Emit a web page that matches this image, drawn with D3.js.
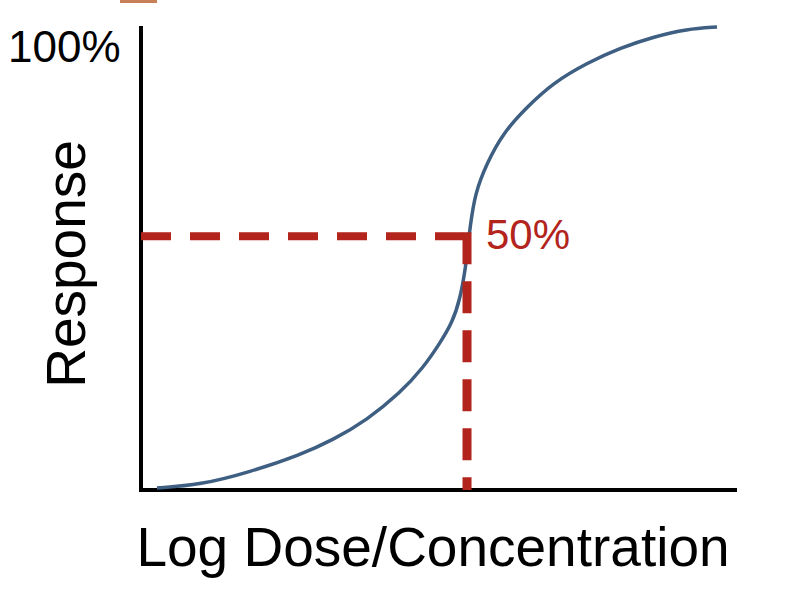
<!DOCTYPE html>
<html>
<head>
<meta charset="utf-8">
<script src="https://cdn.jsdelivr.net/npm/d3@7"></script>
<style>
  html, body { margin: 0; padding: 0; background: #fff; }
  svg { display: block; }
  text { font-family: "Liberation Sans", Arial, sans-serif; }
</style>
</head>
<body>
<svg id="chart" width="792" height="596"></svg>
<script>
// Data (x: log dose, 0-100 arbitrary units; y: response, % of axis)
const logDose = [2.68, 9.90, 18.29, 26.68, 32.21, 37.92, 43.46, 47.32, 50.17, 52.18, 53.52, 54.53, 54.87, 55.20, 56.04, 58.05, 60.74, 64.77, 69.13, 74.83, 80.37, 85.91, 91.61, 96.64];
const response = [0.43, 1.08, 3.88, 7.54, 10.78, 15.09, 20.91, 26.29, 31.68, 35.99, 40.95, 48.49, 52.80, 56.47, 64.01, 70.47, 76.94, 82.54, 87.72, 92.03, 95.26, 97.63, 99.35, 99.78];
const halfDose = [54.7];       // dose at half-maximal response
const halfResponse = [54.7];   // response level marked "50%"
const labels = ["100%", "50%", "Response", "Log Dose/Concentration"];

const svg = d3.select("#chart");
const x = d3.scaleLinear().domain([0, 100]).range([141, 737]);
const y = d3.scaleLinear().domain([0, 100]).range([490, 26]);

// small orange mark at top (cropped element)
svg.append("rect").attr("x", 120).attr("y", 0).attr("width", 37).attr("height", 3)
  .attr("fill", "#c98058");

// axes
svg.append("line")
  .attr("x1", x(0)).attr("x2", x(0)).attr("y1", y(100)).attr("y2", y(0) + 2)
  .attr("stroke", "#000").attr("stroke-width", 4);
svg.append("line")
  .attr("x1", x(0) - 2).attr("x2", x(100)).attr("y1", y(0)).attr("y2", y(0))
  .attr("stroke", "#000").attr("stroke-width", 4);

// curve
const line = d3.line()
  .x((d, i) => x(logDose[i]))
  .y((d, i) => y(response[i]))
  .curve(d3.curveBasis);
svg.append("path")
  .datum(logDose)
  .attr("d", line)
  .attr("fill", "none")
  .attr("stroke", "#3e5f82")
  .attr("stroke-width", 3.5)
  .attr("stroke-linecap", "butt");

// dashed reference lines
const red = "#b2241c";
svg.append("line")
  .attr("x1", x(0)).attr("x2", x(halfDose[0]) - 4)
  .attr("y1", y(halfResponse[0])).attr("y2", y(halfResponse[0]))
  .attr("stroke", red).attr("stroke-width", 8)
  .attr("stroke-dasharray", "30,19");
svg.append("line")
  .attr("x1", x(halfDose[0])).attr("x2", x(halfDose[0]))
  .attr("y1", y(halfResponse[0]) - 4).attr("y2", y(0))
  .attr("stroke", red).attr("stroke-width", 9)
  .attr("stroke-dasharray", "32,17");

// texts
svg.append("text").attr("x", 8).attr("y", 62)
  .attr("font-size", 44).attr("fill", "#000").text(labels[0]);
svg.append("text").attr("x", 486).attr("y", 249)
  .attr("font-size", 42).attr("fill", red).text(labels[1]);
svg.append("text")
  .attr("transform", "translate(85,264) rotate(-90)")
  .attr("text-anchor", "middle")
  .attr("font-size", 55).attr("fill", "#000").text(labels[2]);
svg.append("text").attr("x", 433).attr("y", 566)
  .attr("text-anchor", "middle")
  .attr("font-size", 55).attr("fill", "#000").text(labels[3]);
</script>
</body>
</html>
